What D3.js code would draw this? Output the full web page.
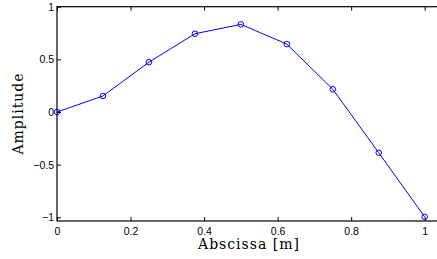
<!DOCTYPE html>
<html>
<head>
<meta charset="utf-8">
<script src="https://d3js.org/d3.v7.min.js"></script>
<style>
  body { margin: 0; background: #fff; }
  .tick text { font-family: "Liberation Sans", Arial, sans-serif; font-size: 10.5px; fill: #000; }
  .lbl { font-family: "DejaVu Serif", "Liberation Serif", serif; font-size: 14px; fill: #000; letter-spacing: 1px; }
</style>
</head>
<body>
<svg id="chart" width="437" height="259"></svg>
<script>
// data
var abscissa = [0, 0.125, 0.25, 0.375, 0.5, 0.625, 0.75, 0.875, 1];
var amplitude = [0, 0.152, 0.473, 0.743, 0.832, 0.645, 0.216, -0.387, -0.996];
var xTicks = [0, 0.2, 0.4, 0.6, 0.8, 1];
var yTicks = [-1, -0.5, 0, 0.5, 1];

var svg = d3.select("#chart");
var mLeft = 57, mRight = 424.7, mTop = 6.7, mBottom = 217.3;

var x = d3.scaleLinear().domain([0, 1]).range([mLeft, mRight]);
var y = d3.scaleLinear().domain([-1, 1]).range([mBottom, mTop]);

var xMax = 1.04, yMin = -1.035;

// frame
svg.append("rect")
  .attr("x", x(0)).attr("y", y(1))
  .attr("width", x(xMax) - x(0)).attr("height", y(yMin) - y(1))
  .attr("fill", "none").attr("stroke", "#000").attr("stroke-width", 1.2);

// bottom axis, inward ticks
var gx = svg.append("g").attr("transform", "translate(0," + y(yMin) + ")")
  .call(d3.axisBottom(x).tickValues(xTicks).tickSize(-4).tickPadding(7).tickFormat(d3.format("")));
gx.select(".domain").remove();
gx.selectAll(".tick line").attr("stroke", "#000");

// top ticks
var gt = svg.append("g").attr("transform", "translate(0," + y(1) + ")")
  .call(d3.axisTop(x).tickValues(xTicks).tickSize(-4).tickFormat(""));
gt.select(".domain").remove();

// left axis
var gy = svg.append("g").attr("transform", "translate(" + x(0) + ",0)")
  .call(d3.axisLeft(y).tickValues(yTicks).tickSize(-4).tickPadding(3)
    .tickFormat(function(d) { return d3.format("")(d).replace("-", "\u2212"); }));
gy.select(".domain").remove();

// line + markers
svg.append("path")
  .datum(abscissa.map(function(d, i) { return [d, amplitude[i]]; }))
  .attr("fill", "none").attr("stroke", "#0000ff").attr("stroke-width", 1)
  .attr("d", d3.line().x(function(d) { return x(d[0]); }).y(function(d) { return y(d[1]); }));

svg.append("g").selectAll("circle")
  .data(abscissa)
  .enter().append("circle")
  .attr("cx", function(d) { return x(d); })
  .attr("cy", function(d, i) { return y(amplitude[i]); })
  .attr("r", 2.8)
  .attr("fill", "none").attr("stroke", "#0000ff").attr("stroke-width", 1);

// axis labels
svg.append("text").attr("class", "lbl")
  .attr("x", 249).attr("y", 249).attr("text-anchor", "middle")
  .text("Abscissa [m]");
svg.append("text").attr("class", "lbl")
  .attr("transform", "translate(22.5,113.5) rotate(-90)").attr("text-anchor", "middle")
  .text("Amplitude");
</script>
</body>
</html>
